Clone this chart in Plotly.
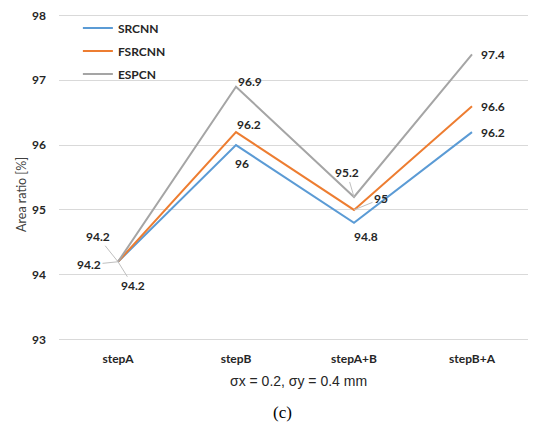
import plotly.graph_objects as go

categories = ["stepA", "stepB", "stepA+B", "stepB+A"]
srcnn = [94.2, 96.0, 94.8, 96.2]
fsrcnn = [94.2, 96.2, 95.0, 96.6]
espcn = [94.2, 96.9, 95.2, 97.4]
y_ticks = [93, 94, 95, 96, 97, 98]

series = [("SRCNN", srcnn, "#5B9BD5"), ("FSRCNN", fsrcnn, "#ED7D31"), ("ESPCN", espcn, "#A5A5A5")]

FONT = "Lato"
# page body has an 8px default margin; compensate so the plot lands where intended
OFF = 8
Y_LO, Y_HI = 92.9, 98.1
PX_PER_UNIT = 65.0
PL, PR = 59, 531
PT = 15 - (Y_HI - 98) * PX_PER_UNIT      # window y of plot top
PB = 340 + (93 - Y_LO) * PX_PER_UNIT     # window y of plot bottom
W, H = 536 - OFF, 423 - OFF


def px(xp):
    return (xp - PL) / (PR - PL)


def py(yp):
    return (PB - yp) / (PB - PT)


fig = go.Figure()
for name, vals, col in series:
    fig.add_trace(go.Scatter(x=categories, y=vals, name=name, mode="lines", legendgroup=name,
                             line=dict(color=col, width=2)))

# label placement per (series, category): (mode, dx, dy)  mode 'a' = leader line
place = {
    ("ESPCN", 0): ("a", -20, -25), ("FSRCNN", 0): ("a", -29, 3), ("SRCNN", 0): ("a", 15, 24),
    ("ESPCN", 1): ("s", 14, 5), ("FSRCNN", 1): ("s", 13, 8), ("SRCNN", 1): ("s", 6, -18),
    ("ESPCN", 2): ("a", -7, -24), ("FSRCNN", 2): ("a", 27, -11), ("SRCNN", 2): ("s", 12, -14),
    ("ESPCN", 3): ("l", 7, 0), ("FSRCNN", 3): ("l", 7, 0), ("SRCNN", 3): ("l", 7, 0),
}
for name, vals, col in series:
    for i, v in enumerate(vals):
        mode, dx, dy = place[(name, i)]
        txt = f"{v:g}"
        common = dict(x=categories[i], y=v, text=txt,
                      font=dict(family=FONT, size=12, color="#262626", weight="bold"))
        if mode == "a":
            fig.add_annotation(**common, showarrow=True, arrowhead=0, arrowwidth=1,
                               arrowcolor="#BFBFBF", ax=dx, ay=dy, standoff=0)
        elif mode == "l":
            fig.add_annotation(**common, showarrow=False, xanchor="left", xshift=dx, yshift=dy)
        else:
            fig.add_annotation(**common, showarrow=False, xshift=dx, yshift=dy)

fig.add_annotation(text="Area ratio [%]", xref="paper", yref="paper", x=px(22), y=py(195),
                   xanchor="center", yanchor="middle", textangle=-90, showarrow=False,
                   font=dict(family=FONT, size=12.5, color="#404040"))
fig.add_annotation(text="σx = 0.2, σy = 0.4 mm", xref="paper", yref="paper",
                   x=px(298), y=py(382), xanchor="center", yanchor="middle", showarrow=False,
                   font=dict(family="Liberation Sans", size=14, color="#262626"))
fig.add_annotation(text="(c)", xref="paper", yref="paper",
                   x=px(282), y=py(413), xanchor="center", yanchor="middle", showarrow=False,
                   font=dict(family="Liberation Serif", size=17, color="black"))

fig.update_layout(
    width=W, height=H,
    margin=dict(l=PL - OFF, r=536 - PR, t=PT - OFF, b=423 - PB, autoexpand=False),
    paper_bgcolor="white", plot_bgcolor="white",
    font=dict(family=FONT, color="#262626"),
    showlegend=True,
    legend=dict(x=0.04, y=py(13), xanchor="left", yanchor="top", bgcolor="rgba(0,0,0,0)",
                font=dict(family=FONT, size=12, weight="bold", color="#262626"),
                traceorder="grouped", tracegroupgap=4),
    xaxis=dict(range=[-0.5, 3.5], showgrid=False, showline=False, zeroline=False,
               tickfont=dict(family=FONT, size=12, weight="bold", color="#262626"),
               ticks="", ticklabelstandoff=4),
    yaxis=dict(range=[Y_LO, Y_HI], tickvals=y_ticks, showgrid=True, gridcolor="#D9D9D9",
               gridwidth=1, zeroline=False, showline=False, ticklabeloverflow="allow",
               tickfont=dict(family=FONT, size=12, weight="bold", color="#262626"),
               ticks="", ticklabelstandoff=12),
)
fig.write_html("out.html")
